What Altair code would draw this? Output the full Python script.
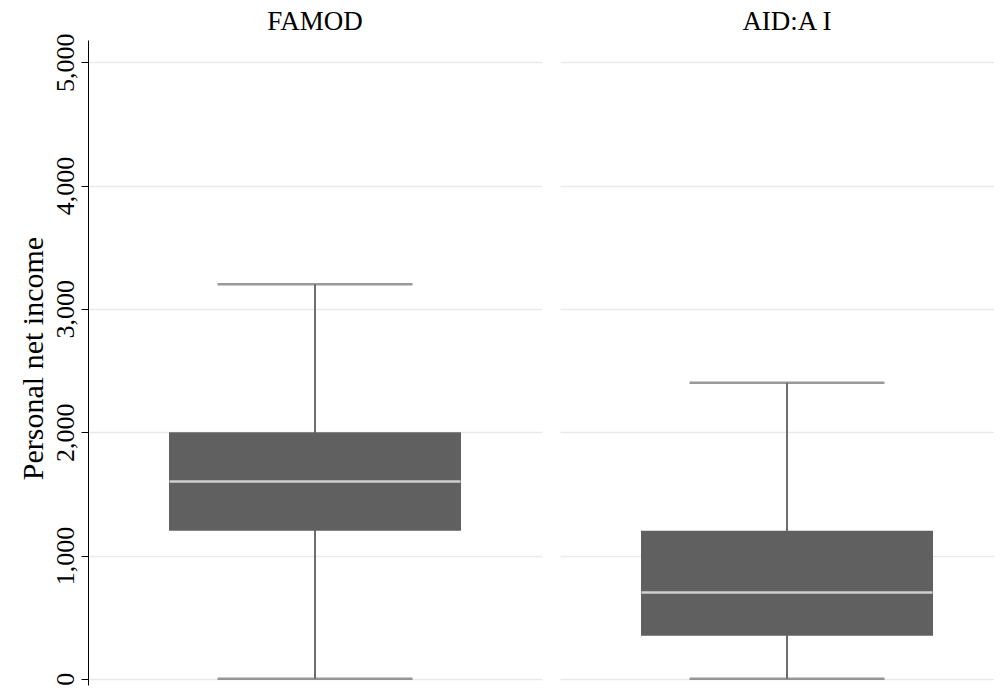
import altair as alt
import pandas as pd

groups = ["FAMOD", "AID:A I"]
whisker_low = [0, 0]
q1 = [1200, 350]
median = [1600, 700]
q3 = [2000, 1200]
whisker_high = [3200, 2400]
y_ticks = [0, 1000, 2000, 3000, 4000, 5000]

df = pd.DataFrame({
    "group": groups,
    "lo": whisker_low,
    "q1": q1,
    "med": median,
    "q3": q3,
    "hi": whisker_high,
})

FONT = "Liberation Serif"
BOX = "#606060"
WHISK = "#6e6e6e"
H = 645

yscale = alt.Scale(domain=[-50, 5180], nice=False, zero=False)


def panel(name, width, xrange, show_axis):
    sub = df[df["group"] == name]
    xenc = alt.X("group:N", axis=None, title=None, scale=alt.Scale(range=xrange))
    if show_axis:
        yaxis = alt.Axis(values=y_ticks, format=",d", title="Personal net income",
                         labelAngle=270, labelAlign="center", labelBaseline="bottom",
                         grid=True, titleY=318)
    else:
        yaxis = alt.Axis(values=y_ticks, labels=False, ticks=False, domain=False,
                         title=None, grid=True)
    whisker = alt.Chart(sub).mark_rule(color=WHISK, strokeWidth=2).encode(
        x=xenc, y=alt.Y("lo:Q", scale=yscale, axis=yaxis), y2="hi:Q")
    box = alt.Chart(sub).mark_bar(color=BOX, size=292).encode(
        x=xenc, y=alt.Y("q1:Q", scale=yscale), y2="q3:Q")
    cap_lo = alt.Chart(sub).mark_tick(color=WHISK, size=195, thickness=2.5,
                                      orient="horizontal").encode(
        x=xenc, y=alt.Y("lo:Q", scale=yscale))
    cap_hi = alt.Chart(sub).mark_tick(color=WHISK, size=195, thickness=2.5,
                                      orient="horizontal").encode(
        x=xenc, y=alt.Y("hi:Q", scale=yscale))
    med = alt.Chart(sub).mark_tick(color="white", size=291, thickness=2.5,
                                   orient="horizontal").encode(
        x=xenc, y=alt.Y("med:Q", scale=yscale))
    header = alt.Chart(sub).mark_text(font=FONT, fontSize=27, color="black",
                                      baseline="alphabetic", align="center").encode(
        x=xenc, y=alt.value(-10), text="group:N")
    return alt.layer(whisker, box, cap_lo, cap_hi, med, header).properties(
        width=width, height=H)


left = panel(groups[0], 454, [0, 454], True)
right = panel(groups[1], 434, [0, 454], False)

chart = alt.hconcat(left, right, spacing=18).configure(
    padding={"left": 10, "top": 0, "right": 0, "bottom": 0},
    background="white",
).configure_view(stroke=None).configure_axis(
    domainColor="black", domainWidth=1, tickColor="black", tickSize=7, tickWidth=1,
    labelFont=FONT, labelFontSize=26, labelColor="black", labelPadding=3,
    titleFont=FONT, titleFontSize=30, titleColor="black", titleFontWeight="normal",
    titlePadding=4,
    gridColor="#eaeaea", gridWidth=1.5,
)

chart.save("out.html", embed_options={"renderer": "svg", "actions": False})
